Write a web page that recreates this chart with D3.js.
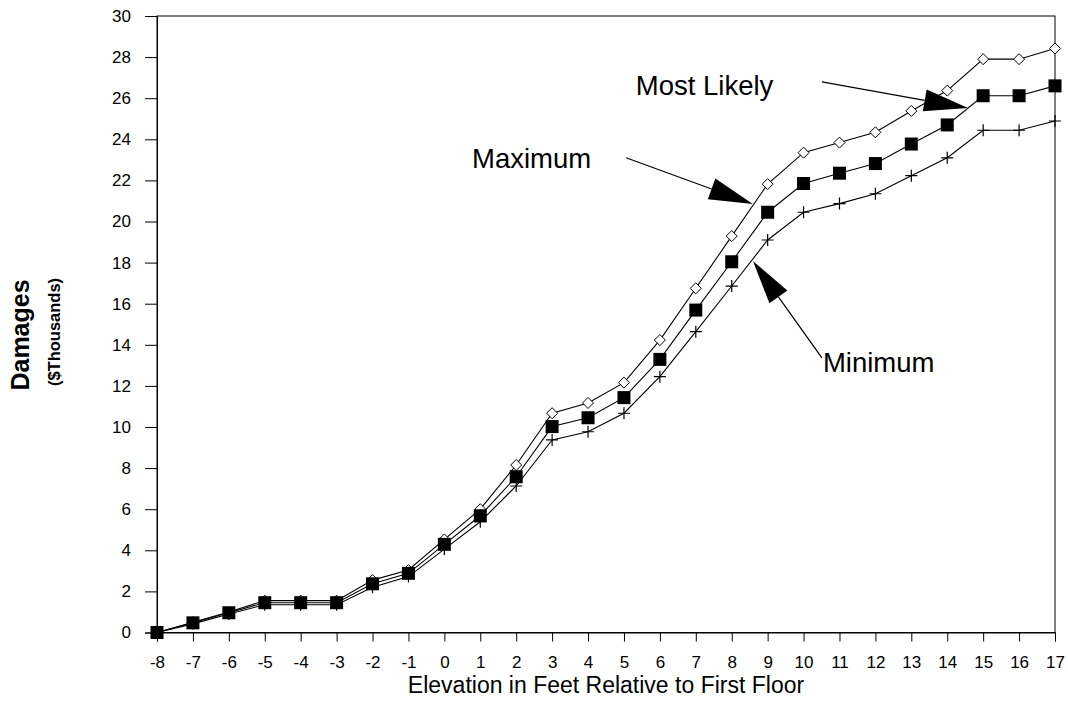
<!DOCTYPE html>
<html><head><meta charset="utf-8">
<script src="https://cdn.jsdelivr.net/npm/d3@7"></script>
<style>body{margin:0;background:#fff}svg{display:block}text{font-family:"Liberation Sans",Arial,sans-serif}</style>
</head><body>
<svg id="c" width="1068" height="708"></svg>
<script>
const elevations = [-8,-7,-6,-5,-4,-3,-2,-1,0,1,2,3,4,5,6,7,8,9,10,11,12,13,14,15,16,17];
const maximum    = [0,0.5,1.0,1.55,1.55,1.55,2.55,3.04,4.53,6.0,8.15,10.67,11.17,12.16,14.23,16.75,19.29,21.82,23.35,23.84,24.34,25.38,26.37,27.9,27.9,28.42];
const mostLikely = [0,0.47,0.96,1.45,1.45,1.45,2.37,2.88,4.29,5.68,7.58,10.02,10.45,11.43,13.29,15.69,18.04,20.45,21.85,22.35,22.82,23.77,24.7,26.12,26.12,26.6];
const minimum    = [0,0.42,0.9,1.35,1.35,1.35,2.2,2.72,4.06,5.39,7.13,9.37,9.77,10.67,12.45,14.64,16.86,19.1,20.45,20.87,21.35,22.23,23.1,24.44,24.44,24.89];
const yTicks = d3.range(0,31,2);
const xTitle = "Elevation in Feet Relative to First Floor";
const yTitle = "Damages";
const ySubTitle = "($Thousands)";
// annotations in data units: label position, arrow start, arrow tip
const annotations = [
  {label:"Most Likely", lx:5.33, ly:26.16, sx:10.51, sy:26.79, tx:14.58, ty:25.52},
  {label:"Maximum",     lx:0.77, ly:22.6,  sx:5.06,  sy:23.1,  tx:8.59,  ty:20.85},
  {label:"Minimum",     lx:10.54, ly:12.68, sx:10.51, sy:13.36, tx:8.59, ty:18.08}
];

const svg = d3.select("#c");
const L=157, R=1055, T=16, B=632.5;
const x = d3.scaleLinear().domain([-8,17]).range([L,R]);
const y = d3.scaleLinear().domain([0,30]).range([B,T]);

// frame
svg.append("rect").attr("x",L).attr("y",T).attr("width",R-L).attr("height",B-T)
  .attr("fill","none").attr("stroke","#000").attr("stroke-width",1);

// axes
const xa = svg.append("g").attr("transform",`translate(0,${B})`)
  .call(d3.axisBottom(x).tickValues(elevations).tickFormat(d=>String(d)).tickSize(9).tickPadding(10));
const ya = svg.append("g").attr("transform",`translate(${L},0)`)
  .call(d3.axisLeft(y).tickValues(yTicks).tickFormat(d=>String(d)).tickSize(12).tickPadding(14));
[xa,ya].forEach(g=>{
  g.select(".domain").attr("stroke","#000");
  g.selectAll(".tick line").attr("stroke","#000");
  g.selectAll(".tick text").attr("fill","#000").attr("font-size","17px").attr("font-family","'Liberation Sans',Arial,sans-serif");
});
xa.selectAll(".tick text").attr("dy","0.95em");

// titles
svg.append("text").attr("x",(L+R)/2).attr("y",693).attr("text-anchor","middle")
  .attr("font-size","23px").text(xTitle);
svg.append("text").attr("transform",`translate(29,335) rotate(-90)`).attr("text-anchor","middle")
  .attr("font-size","25px").attr("font-weight","bold").text(yTitle);
svg.append("text").attr("transform",`translate(60,332) rotate(-90)`).attr("text-anchor","middle")
  .attr("font-size","16.5px").attr("font-weight","bold").text(ySubTitle);

// series
const series = [
  {name:"Maximum", values:maximum, marker:"diamond"},
  {name:"Most Likely", values:mostLikely, marker:"square"},
  {name:"Minimum", values:minimum, marker:"plus"}
];
const line = d3.line().x((d,i)=>x(elevations[i])).y(d=>y(d));
series.forEach(s=>{
  svg.append("path").datum(s.values).attr("d",line).attr("fill","none")
    .attr("stroke","#000").attr("stroke-width",1.1);
});
series.forEach(s=>{
  const g = svg.append("g");
  s.values.forEach((v,i)=>{
    const cx = x(elevations[i]), cy = y(v);
    if(s.marker==="diamond"){
      g.append("path").attr("d",`M${cx},${cy-5.5}L${cx+5.5},${cy}L${cx},${cy+5.5}L${cx-5.5},${cy}Z`)
        .attr("fill","#fff").attr("stroke","#000").attr("stroke-width",1);
    } else if(s.marker==="square"){
      g.append("rect").attr("x",cx-6.5).attr("y",cy-6.5).attr("width",13).attr("height",13).attr("fill","#000");
    } else {
      g.append("path").attr("d",`M${cx-6},${cy}H${cx+6}M${cx},${cy-6}V${cy+6}`)
        .attr("stroke","#000").attr("stroke-width",1.2).attr("fill","none");
    }
  });
});

// annotations
annotations.forEach(a=>{
  const sx=x(a.sx), sy=y(a.sy), tx=x(a.tx), ty=y(a.ty);
  const dx=tx-sx, dy=ty-sy, len=Math.hypot(dx,dy), ux=dx/len, uy=dy/len;
  const hl=44, hw=11;
  const bx=tx-ux*hl, by=ty-uy*hl;
  svg.append("line").attr("x1",sx).attr("y1",sy).attr("x2",bx).attr("y2",by)
    .attr("stroke","#000").attr("stroke-width",1.2);
  svg.append("path").attr("d",`M${tx},${ty}L${bx-uy*hw},${by+ux*hw}L${bx+uy*hw},${by-ux*hw}Z`).attr("fill","#000");
  svg.append("text").attr("x",x(a.lx)).attr("y",y(a.ly)).attr("font-size","27.5px").text(a.label);
});
</script>
</body></html>
